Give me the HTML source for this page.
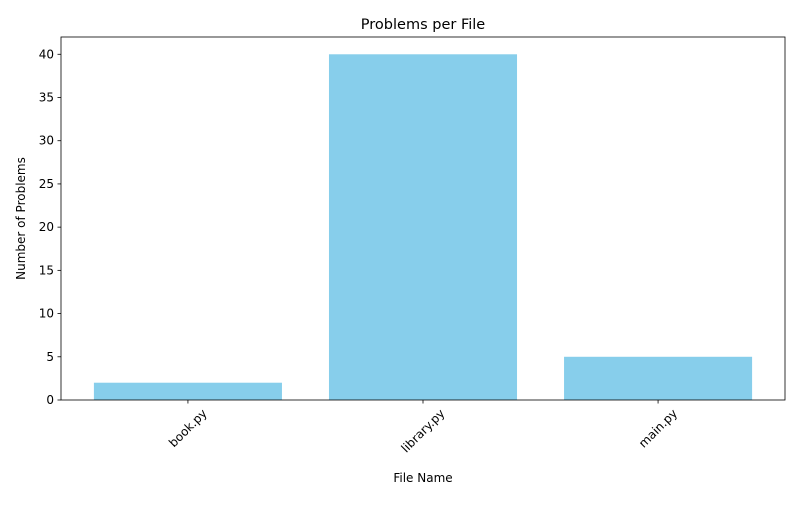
<!DOCTYPE html>
<html><head><meta charset="utf-8"><style>
body{margin:0;background:#fff;font-family:"Liberation Sans","DejaVu Sans",sans-serif}
</style></head><body>
<svg id="chart" width="800" height="500" xmlns="http://www.w3.org/2000/svg" font-family="DejaVu Sans, Liberation Sans, sans-serif"></svg>
<script>
const categories=["book.py","library.py","main.py"];
const problems=[2,40,5];
const yTicks=[0,5,10,15,20,25,30,35,40];
const L=61,R=785,T=37,B=400;
const xMin=-0.54,xMax=2.54,yMin=0,yMax=42;
const sx=v=>L+(v-xMin)/(xMax-xMin)*(R-L);
const sy=v=>B-(v-yMin)/(yMax-yMin)*(B-T);
const svg=document.getElementById('chart');
const NS="http://www.w3.org/2000/svg";
function mk(t,a){const e=document.createElementNS(NS,t);for(const k in a)e.setAttribute(k,a[k]);svg.appendChild(e);return e;}
categories.forEach((c,i)=>{
  const r=mk('rect',{x:sx(i-0.4),y:sy(problems[i]),width:sx(i+0.4)-sx(i-0.4),height:sy(0)-sy(problems[i]),fill:'#87ceeb'});
  
  
  const x=sx(i);
  const tk=mk('line',{x1:x,x2:x,y1:B,y2:B+3.5,stroke:'#000','stroke-width':0.8});
  
  
  const t=mk('text',{x:x,y:B+30,'font-size':12,'text-anchor':'middle','dominant-baseline':'central'});
  t.textContent=c;
  
  
  const w=t.getComputedTextLength();
  const cy=B+7+(w+12)*0.7071/2;
  t.setAttribute('y',cy);
  t.setAttribute('transform',`rotate(-45 ${x} ${cy})`);
});
yTicks.forEach(v=>{
  const y=sy(v);
  const tk=mk('line',{x1:L-3.5,x2:L,y1:y,y2:y,stroke:'#000','stroke-width':0.8});
  
  
  const t=mk('text',{x:L-7,y:y+4,'font-size':12,'text-anchor':'end'});
  t.textContent=v;
  
  
});
const fr=mk('rect',{x:L,y:T,width:R-L,height:B-T,fill:'none',stroke:'#000','stroke-width':0.8});


const ti=mk('text',{x:(L+R)/2,y:29,'font-size':14.5,'text-anchor':'middle'});
ti.textContent='Problems per File';


const xl=mk('text',{x:(L+R)/2,y:482,'font-size':12,'text-anchor':'middle'});
xl.textContent='File Name';


const yl=mk('text',{x:25,y:(T+B)/2,'font-size':12,'text-anchor':'middle',transform:`rotate(-90 25 ${(T+B)/2})`});
yl.textContent='Number of Problems';


</script>
</body></html>
